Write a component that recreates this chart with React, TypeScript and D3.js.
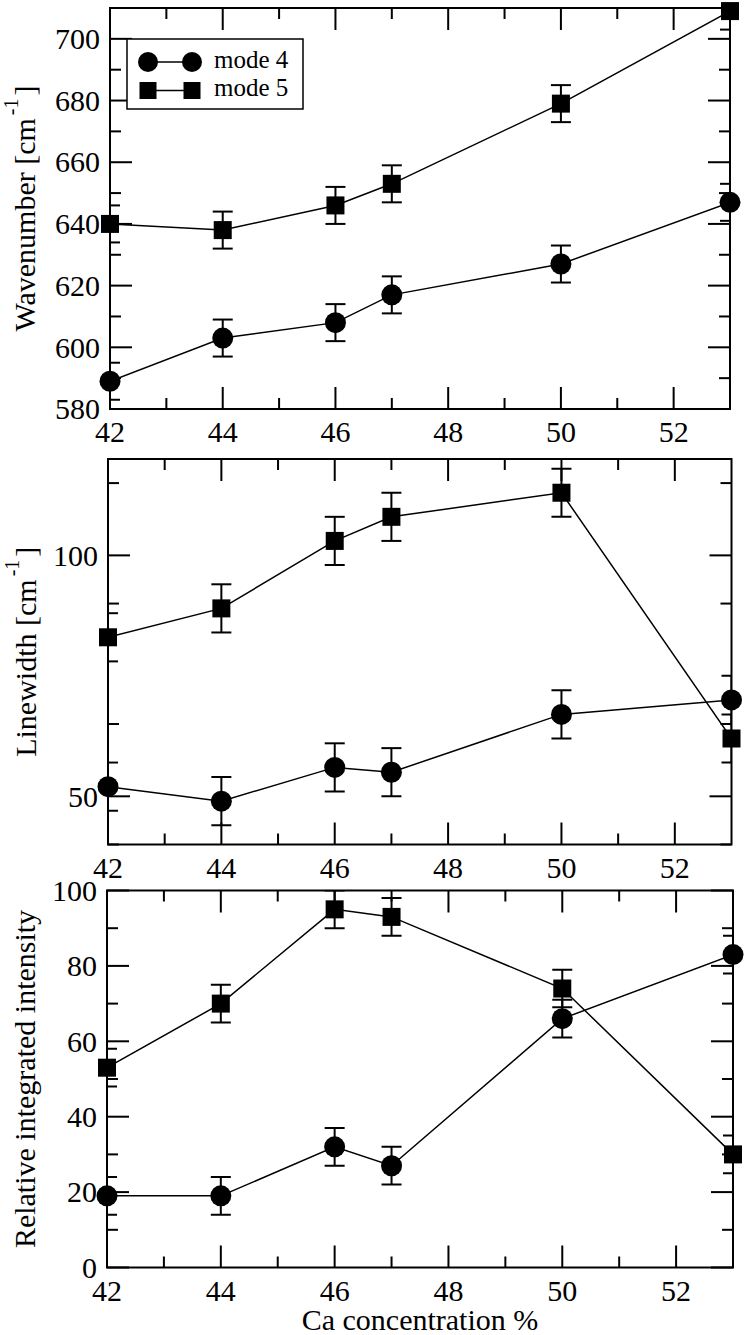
import { useEffect, useRef } from 'react';
import * as d3 from 'd3';

// Ca concentration (%) shared by all three panels
const caConcentration = [42, 44, 46, 47, 50, 53];
const xTickLabels = [42, 44, 46, 48, 50, 52];

// top panel: wavenumber [cm-1]
const wavenumberMode4 = [589, 603, 608, 617, 627, 647];
const wavenumberMode4Err = [6, 6, 6, 6, 6, 6];
const wavenumberMode5 = [640, 638, 646, 653, 679, 709];
const wavenumberMode5Err = [6, 6, 6, 6, 6, 6];
const wavenumberTicks = [580, 600, 620, 640, 660, 680, 700];

// middle panel: linewidth [cm-1]
const linewidthMode4 = [52, 49, 56, 55, 67, 70];
const linewidthMode4Err = [5, 5, 5, 5, 5, 5];
const linewidthMode5 = [83, 89, 103, 108, 113, 62];
const linewidthMode5Err = [5, 5, 5, 5, 5, 5];
const linewidthTicks = [50, 100];

// bottom panel: relative integrated intensity
const intensityMode4 = [19, 19, 32, 27, 66, 83];
const intensityMode4Err = [5, 5, 5, 5, 5, 5];
const intensityMode5 = [53, 70, 95, 93, 74, 30];
const intensityMode5Err = [5, 5, 5, 5, 5, 5];
const intensityTicks = [0, 20, 40, 60, 80, 100];

const seriesNames = ['mode 4', 'mode 5'];

const FONT = "'Liberation Serif'";
const WIDTH = 747;
const HEIGHT = 1335;

interface PanelSpec {
  id: string;
  left: number;
  right: number;
  top: number;
  bottom: number;
  yDomain: [number, number];
  yTicks: number[];
  yMinorStep: number;
  label: string;
  sup: boolean;
  labelX: number;
  mode4: number[];
  mode4Err: number[];
  mode5: number[];
  mode5Err: number[];
}

export default function App() {
  const svgRef = useRef<SVGSVGElement>(null);

  useEffect(() => {
    if (!svgRef.current) return;
    const svg = d3.select(svgRef.current);
    svg.selectAll('*').remove();

    const panels: PanelSpec[] = [
      {
        id: 'p1', left: 110, right: 730, top: 8, bottom: 409,
        yDomain: [580, 710], yTicks: wavenumberTicks, yMinorStep: 10,
        label: 'Wavenumber [cm', sup: true, labelX: 35,
        mode4: wavenumberMode4, mode4Err: wavenumberMode4Err,
        mode5: wavenumberMode5, mode5Err: wavenumberMode5Err,
      },
      {
        id: 'p2', left: 108, right: 731.5, top: 459, bottom: 844.5,
        yDomain: [40, 120], yTicks: linewidthTicks, yMinorStep: 25,
        label: 'Linewidth [cm', sup: true, labelX: 36,
        mode4: linewidthMode4, mode4Err: linewidthMode4Err,
        mode5: linewidthMode5, mode5Err: linewidthMode5Err,
      },
      {
        id: 'p3', left: 107, right: 733, top: 890.5, bottom: 1267.5,
        yDomain: [0, 100], yTicks: intensityTicks, yMinorStep: 10,
        label: 'Relative integrated intensity', sup: false, labelX: 35,
        mode4: intensityMode4, mode4Err: intensityMode4Err,
        mode5: intensityMode5, mode5Err: intensityMode5Err,
      },
    ];

    const majorLen = 22;
    const minorLen = 11;

    panels.forEach(p => {
      const x = d3.scaleLinear().domain([42, 53]).range([p.left, p.right]);
      const y = d3.scaleLinear().domain(p.yDomain).range([p.bottom, p.top]);
      const g = svg.append('g');

      // clip for lines and error bars
      svg.append('defs').append('clipPath').attr('id', `clip-${p.id}`)
        .append('rect')
        .attr('x', p.left).attr('y', p.top)
        .attr('width', p.right - p.left).attr('height', p.bottom - p.top);

      // ticks on all four sides, pointing inward
      const xMinor = d3.range(43, 53, 2);
      const yMinor = d3.range(p.yDomain[0], p.yDomain[1] + 0.001, p.yMinorStep)
        .filter(v => !p.yTicks.includes(v));
      const tickG = g.append('g').attr('stroke', '#000').attr('stroke-width', 2);
      const xTicksAll = [
        ...xTickLabels.map(v => ({ v, len: majorLen })),
        ...xMinor.map(v => ({ v, len: minorLen })),
      ];
      xTicksAll.forEach(t => {
        tickG.append('line').attr('x1', x(t.v)).attr('x2', x(t.v))
          .attr('y1', p.bottom).attr('y2', p.bottom - t.len);
        tickG.append('line').attr('x1', x(t.v)).attr('x2', x(t.v))
          .attr('y1', p.top).attr('y2', p.top + t.len);
      });
      const yTicksAll = [
        ...p.yTicks.map(v => ({ v, len: majorLen })),
        ...yMinor.map(v => ({ v, len: minorLen })),
      ];
      yTicksAll.forEach(t => {
        tickG.append('line').attr('x1', p.left).attr('x2', p.left + t.len)
          .attr('y1', y(t.v)).attr('y2', y(t.v));
        tickG.append('line').attr('x1', p.right).attr('x2', p.right - t.len)
          .attr('y1', y(t.v)).attr('y2', y(t.v));
      });

      // frame
      g.append('rect')
        .attr('x', p.left).attr('y', p.top)
        .attr('width', p.right - p.left).attr('height', p.bottom - p.top)
        .attr('fill', 'none').attr('stroke', '#000').attr('stroke-width', 2);

      // tick labels
      g.append('g').selectAll('text').data(xTickLabels).join('text')
        .attr('x', d => x(d)).attr('y', p.bottom + 33)
        .attr('text-anchor', 'middle')
        .style('font-family', FONT).attr('font-size', 30)
        .text(d => d);
      g.append('g').selectAll('text').data(p.yTicks).join('text')
        .attr('x', p.left - 10).attr('y', d => y(d))
        .attr('dy', '0.34em')
        .attr('text-anchor', 'end')
        .style('font-family', FONT).attr('font-size', 30)
        .text(d => d);

      // y axis label
      const mid = (p.top + p.bottom) / 2;
      const lab = g.append('text')
        .attr('transform', `translate(${p.labelX},${mid}) rotate(-90)`)
        .attr('text-anchor', 'middle')
        .style('font-family', FONT).attr('font-size', 30);
      lab.append('tspan').text(p.label);
      if (p.sup) {
        lab.append('tspan').attr('font-size', 20).attr('dy', -17).attr('dx', 3).text('-1');
        lab.append('tspan').attr('dy', 17).attr('dx', 3).text(']');
      }

      const series = [
        { vals: p.mode4, err: p.mode4Err, shape: 'circle' },
        { vals: p.mode5, err: p.mode5Err, shape: 'square' },
      ];

      const line = d3.line<number>()
        .x((_, i) => x(caConcentration[i]))
        .y(d => y(d));

      series.forEach(s => {
        const clipped = g.append('g').attr('clip-path', `url(#clip-${p.id})`);
        clipped.append('path')
          .datum(s.vals)
          .attr('d', line)
          .attr('fill', 'none').attr('stroke', '#000').attr('stroke-width', 1.5);

        const eb = clipped.append('g').attr('stroke', '#000').attr('stroke-width', 2);
        s.vals.forEach((v, i) => {
          const cx = x(caConcentration[i]);
          const hi = y(v + s.err[i]);
          const lo = y(v - s.err[i]);
          eb.append('line').attr('x1', cx).attr('x2', cx).attr('y1', hi).attr('y2', lo);
          eb.append('line').attr('x1', cx - 10).attr('x2', cx + 10).attr('y1', hi).attr('y2', hi);
          eb.append('line').attr('x1', cx - 10).attr('x2', cx + 10).attr('y1', lo).attr('y2', lo);
        });

        const mk = g.append('g');
        if (s.shape === 'circle') {
          mk.selectAll('circle').data(s.vals).join('circle')
            .attr('cx', (_, i) => x(caConcentration[i]))
            .attr('cy', d => y(d))
            .attr('r', 10.5).attr('fill', '#000');
        } else {
          mk.selectAll('rect').data(s.vals).join('rect')
            .attr('x', (_, i) => x(caConcentration[i]) - 9)
            .attr('y', d => y(d) - 9)
            .attr('width', 18).attr('height', 18).attr('fill', '#000');
        }
      });

      // legend only in the top panel
      if (p.id === 'p1') {
        const lg = g.append('g');
        lg.append('rect')
          .attr('x', p.left + 17).attr('y', 39)
          .attr('width', 176).attr('height', 70)
          .attr('fill', '#fff').attr('stroke', '#000').attr('stroke-width', 1.5);
        seriesNames.forEach((name, i) => {
          const ly = 62 + i * 28.5;
          const x1 = p.left + 38;
          const x2 = p.left + 82;
          lg.append('line').attr('x1', x1).attr('x2', x2).attr('y1', ly).attr('y2', ly)
            .attr('stroke', '#000').attr('stroke-width', 1.5);
          [x1, x2].forEach(cx => {
            if (i === 0) {
              lg.append('circle').attr('cx', cx).attr('cy', ly).attr('r', 10).attr('fill', '#000');
            } else {
              lg.append('rect').attr('x', cx - 8.5).attr('y', ly - 8.5)
                .attr('width', 17).attr('height', 17).attr('fill', '#000');
            }
          });
          lg.append('text')
            .attr('x', p.left + 104).attr('y', ly + 5.5)
            .style('font-family', FONT).attr('font-size', 25)
            .text(name);
        });
      }
    });

    // x axis title
    svg.append('text')
      .attr('x', (panels[2].left + panels[2].right) / 2)
      .attr('y', 1330)
      .attr('text-anchor', 'middle')
      .style('font-family', FONT).attr('font-size', 30)
      .text('Ca concentration %');
  }, []);

  return (
    <svg
      ref={svgRef}
      width={WIDTH}
      height={HEIGHT}
      style={{ position: 'absolute', left: 0, top: 0, background: '#fff', display: 'block' }}
    />
  );
}
